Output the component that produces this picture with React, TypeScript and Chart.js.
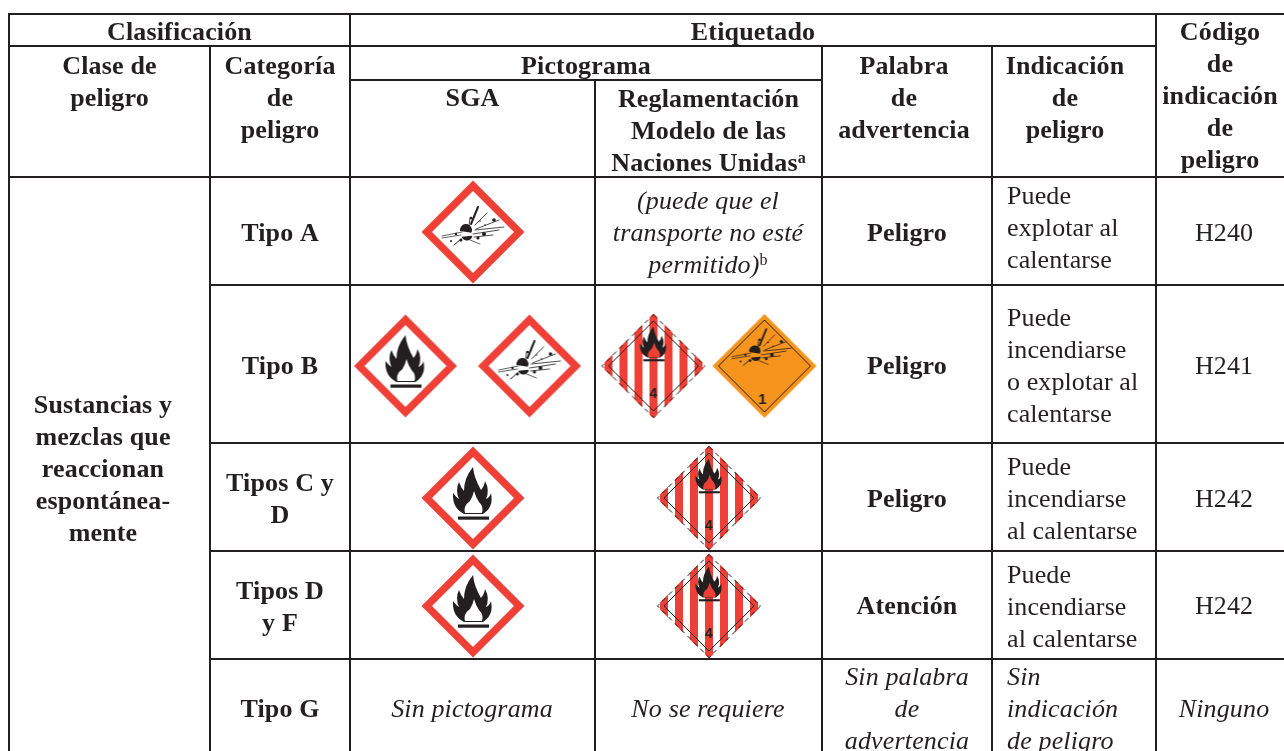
import React, { useEffect, useRef } from "react";
import { Chart, registerables } from "chart.js";

Chart.register(...registerables);

// ---- table text ----
const clasificacion = ["Clasificación"];
const etiquetado = ["Etiquetado"];
const codigoHeader = ["Código", "de", "indicación", "de", "peligro"];
const claseHeader = ["Clase de", "peligro"];
const categoriaHeader = ["Categoría", "de", "peligro"];
const pictogramaHeader = ["Pictograma"];
const sgaHeader = ["SGA"];
const reglamentoHeader = ["Reglamentación", "Modelo de las", "Naciones Unidas^a"];
const palabraHeader = ["Palabra", "de", "advertencia"];
const indicacionHeader = ["Indicación", "de", "peligro"];
const hazardClass = ["Sustancias y", "mezclas que", "reaccionan", "espontánea-", "mente"];
const categories = [["Tipo A"], ["Tipo B"], ["Tipos C y", "D"], ["Tipos D", "y F"], ["Tipo G"]];
const signalWords = [["Peligro"], ["Peligro"], ["Peligro"], ["Atención"]];
const signalNone = ["Sin palabra", "de", "advertencia"];
const statements = [
  ["Puede", "explotar al", "calentarse"],
  ["Puede", "incendiarse", "o explotar al", "calentarse"],
  ["Puede", "incendiarse", "al calentarse"],
  ["Puede", "incendiarse", "al calentarse"],
];
const statementNone = ["Sin", "indicación", "de peligro"];
const codes = ["H240", "H241", "H242", "H242"];
const codeNone = ["Ninguno"];
const transportNote = ["(puede que el", "transporte no esté", "permitido)^b"];
const noPictogram = ["Sin pictograma"];
const notRequired = ["No se requiere"];

// pictograms by table cell: [kind, column, body row, slot in the cell]
const pictograms: [string, number, number, number][] = [
  ["ghsExplosive", 2, 0, 0],
  ["ghsFlame", 2, 1, -1],
  ["ghsExplosive", 2, 1, 1],
  ["unFlame", 3, 1, -1],
  ["unExplosive", 3, 1, 1],
  ["ghsFlame", 2, 2, 0],
  ["unFlame", 3, 2, 0],
  ["ghsFlame", 2, 3, 0],
  ["unFlame", 3, 3, 0],
];

// ---- layout ----
const W = 1284;
const H = 751;
const colEdges = [9, 210, 350, 595, 822, 992, 1156, W];
const rowEdges = [177, 285, 443, 551, 659, H];
const INK = "#231f20";
const RED = "#ee4036";
const ORANGE = "#f7941d";

function flame(c: CanvasRenderingContext2D, inner: string) {
  c.fillStyle = INK;
  c.beginPath();
  c.moveTo(-9, 16);
  c.quadraticCurveTo(-21, 10, -20, -5);
  c.quadraticCurveTo(-17, -1, -14, 1);
  c.quadraticCurveTo(-18, -8, -14, -16);
  c.quadraticCurveTo(-12, -10, -9, -7);
  c.quadraticCurveTo(-9, -20, 0, -31);
  c.quadraticCurveTo(1, -20, 8, -8);
  c.quadraticCurveTo(11, -11, 12, -17);
  c.quadraticCurveTo(17, -8, 13, 1);
  c.quadraticCurveTo(17, -1, 18, -5);
  c.quadraticCurveTo(21, 9, 10, 16);
  c.closePath();
  c.fill();
  c.fillStyle = inner;
  c.beginPath();
  c.moveTo(-8, 15);
  c.quadraticCurveTo(-10, 8, -3, 3);
  c.quadraticCurveTo(0, -2, 1, -7);
  c.quadraticCurveTo(3, 0, 6, 4);
  c.quadraticCurveTo(11, 9, 9, 15);
  c.closePath();
  c.fill();
  c.fillStyle = INK;
  c.fillRect(-15, 18.5, 31, 3.2);
}

const rays: [number, number, number, number, number][] = [
  [-2, -8, 5, -25, 2],
  [2, -7, 14, -19, 0.8],
  [3, -3, 26, -12, 0.8],
  [2, -2, 31, -5, 0.8],
  [0, 2, 26, -2, 0.8],
  [1, 5, 20, 3, 0.8],
  [-11, 0, -31, 4, 0.7],
  [-12, 3, -31, 6, 0.7],
  [-12, 7, -19, 13, 1],
  [-3, 8, 7, 12, 0.7],
  [-4, -6, -3, -14, 0.8],
];
const shrapnel: [number, number, number][] = [
  [21, -12, 1.8], [11, 2, 2], [5, 6, 1.6], [-17, 2, 1.2], [-22, 9, 1], [-12, 8, 1.5], [-2, -14, 1.3], [12, -7, 0.8], [7, -11, 0.8],
];

function explosion(c: CanvasRenderingContext2D) {
  c.strokeStyle = INK;
  c.lineCap = "round";
  rays.forEach(([a, b, d, e, w]) => {
    c.lineWidth = w;
    c.beginPath();
    c.moveTo(a, b);
    c.lineTo(d, e);
    c.stroke();
  });
  c.fillStyle = INK;
  shrapnel.forEach(([a, b, r]) => {
    c.beginPath();
    c.arc(a, b, r, 0, Math.PI * 2);
    c.fill();
  });
  c.beginPath();
  c.arc(-7, -2, 6, Math.PI * 0.95, Math.PI * 2.15);
  c.closePath();
  c.fill();
  c.beginPath();
  c.arc(-6, 3, 5.5, Math.PI * 0.05, Math.PI * 0.9);
  c.closePath();
  c.fill();
}

function diamond(c: CanvasRenderingContext2D, r: number) {
  c.beginPath();
  c.moveTo(0, -r);
  c.lineTo(r, 0);
  c.lineTo(0, r);
  c.lineTo(-r, 0);
  c.closePath();
}

function makePictogram(kind: string): HTMLCanvasElement {
  const cv = document.createElement("canvas");
  cv.width = 120;
  cv.height = 120;
  const c = cv.getContext("2d")!;
  c.translate(60, 60);
  if (kind === "ghsFlame" || kind === "ghsExplosive") {
    diamond(c, 51.5);
    c.fillStyle = RED;
    c.fill();
    diamond(c, 41);
    c.fillStyle = "#fff";
    c.fill();
    if (kind === "ghsFlame") flame(c, "#fff");
    else explosion(c);
  } else if (kind === "unFlame") {
    c.save();
    diamond(c, 52.5);
    c.fillStyle = "#fff";
    c.fill();
    c.clip();
    c.fillStyle = RED;
    for (let i = -3; i <= 3; i++) c.fillRect(i * 15 - 4, -60, 8, 120);
    c.restore();
    c.strokeStyle = INK;
    c.lineWidth = 1;
    c.setLineDash([5, 4]);
    diamond(c, 51.5);
    c.stroke();
    c.setLineDash([]);
    diamond(c, 45);
    c.stroke();
    c.save();
    c.translate(0, -19);
    c.scale(0.68, 0.66);
    flame(c, RED);
    c.restore();
    c.fillStyle = INK;
    c.font = "bold 14px 'Liberation Sans'";
    c.textAlign = "center";
    c.textBaseline = "middle";
    c.fillText("4", 0, 28);
  } else {
    diamond(c, 52);
    c.fillStyle = ORANGE;
    c.fill();
    c.strokeStyle = INK;
    c.lineWidth = 1;
    diamond(c, 46);
    c.stroke();
    c.save();
    c.translate(-3, -13);
    c.scale(0.95, 0.95);
    explosion(c);
    c.restore();
    c.fillStyle = INK;
    c.font = "bold 15px 'Liberation Sans'";
    c.textAlign = "center";
    c.textBaseline = "middle";
    c.fillText("1", -2, 34);
  }
  return cv;
}

type Style = "b" | "i" | "r";
type Block = { lines: string[]; cx: number; y: number; style: Style; left?: boolean };

const mid = (a: number, b: number) => (a + b) / 2;

const blocks: Block[] = [
  { lines: clasificacion, cx: mid(colEdges[0], colEdges[2]), y: 32, style: "b" },
  { lines: etiquetado, cx: mid(colEdges[2], colEdges[6]), y: 32, style: "b" },
  { lines: codigoHeader, cx: 1220, y: 32, style: "b" },
  { lines: claseHeader, cx: mid(colEdges[0], colEdges[1]), y: 66, style: "b" },
  { lines: categoriaHeader, cx: mid(colEdges[1], colEdges[2]), y: 66, style: "b" },
  { lines: pictogramaHeader, cx: mid(colEdges[2], colEdges[4]), y: 66, style: "b" },
  { lines: sgaHeader, cx: mid(colEdges[2], colEdges[3]), y: 98, style: "b" },
  { lines: reglamentoHeader, cx: mid(colEdges[3], colEdges[4]), y: 99, style: "b" },
  { lines: palabraHeader, cx: 904, y: 66, style: "b" },
  { lines: indicacionHeader, cx: 1065, y: 66, style: "b" },
  { lines: hazardClass, cx: 103, y: 405, style: "b" },
  { lines: categories[0], cx: 280, y: 233, style: "b" },
  { lines: categories[1], cx: 280, y: 366, style: "b" },
  { lines: categories[2], cx: 280, y: 483, style: "b" },
  { lines: categories[3], cx: 280, y: 591, style: "b" },
  { lines: categories[4], cx: 280, y: 709, style: "b" },
  { lines: transportNote, cx: 708, y: 201, style: "i" },
  { lines: noPictogram, cx: 472, y: 709, style: "i" },
  { lines: notRequired, cx: 708, y: 709, style: "i" },
  { lines: signalWords[0], cx: 907, y: 233, style: "b" },
  { lines: signalWords[1], cx: 907, y: 366, style: "b" },
  { lines: signalWords[2], cx: 907, y: 499, style: "b" },
  { lines: signalWords[3], cx: 907, y: 606, style: "b" },
  { lines: signalNone, cx: 907, y: 677, style: "i" },
  { lines: statements[0], cx: 1007, y: 196, style: "r", left: true },
  { lines: statements[1], cx: 1007, y: 318, style: "r", left: true },
  { lines: statements[2], cx: 1007, y: 467, style: "r", left: true },
  { lines: statements[3], cx: 1007, y: 575, style: "r", left: true },
  { lines: statementNone, cx: 1007, y: 677, style: "i", left: true },
  { lines: [codes[0]], cx: 1224, y: 233, style: "r" },
  { lines: [codes[1]], cx: 1224, y: 366, style: "r" },
  { lines: [codes[2]], cx: 1224, y: 499, style: "r" },
  { lines: [codes[3]], cx: 1224, y: 606, style: "r" },
  { lines: codeNone, cx: 1224, y: 709, style: "i" },
];

const FONT: Record<Style, string> = {
  b: "bold 26px 'Liberation Serif'",
  i: "italic 26px 'Liberation Serif'",
  r: "26px 'Liberation Serif'",
};
const SUP: Record<Style, string> = {
  b: "bold 16px 'Liberation Serif'",
  i: "16px 'Liberation Serif'",
  r: "16px 'Liberation Serif'",
};
const SPACING: Record<Style, string> = { b: "0.15px", i: "0.15px", r: "0.1px" };

const tableText = {
  id: "tableText",
  afterDatasetsDraw(chart: any) {
    const { ctx, scales } = chart;
    ctx.save();
    ctx.fillStyle = INK;
    ctx.textBaseline = "alphabetic";
    ctx.textAlign = "left";
    blocks.forEach((b) => {
      b.lines.forEach((line, i) => {
        const [main, sup] = line.split("^");
        ctx.letterSpacing = SPACING[b.style];
        ctx.font = FONT[b.style];
        const mw = ctx.measureText(main).width;
        ctx.font = SUP[b.style];
        const sw = sup ? ctx.measureText(sup).width : 0;
        const total = mw + sw;
        const x = scales.x.getPixelForValue(b.left ? b.cx : b.cx - total / 2);
        const y = scales.y.getPixelForValue(b.y + i * 32 + 8);
        ctx.font = FONT[b.style];
        ctx.fillText(main, x, y);
        if (sup) {
          ctx.font = SUP[b.style];
          ctx.fillText(sup, x + mw, y - 8);
        }
      });
    });
    ctx.restore();
  },
};

// [y, from x, to x] and [x, from y, to y] rules of the table
const hRules: [number, number, number][] = [
  [14, 9, W],
  [46, 9, colEdges[6]],
  [80, colEdges[2], colEdges[4]],
  [rowEdges[0], 9, W],
  [rowEdges[1], colEdges[1], W],
  [rowEdges[2], colEdges[1], W],
  [rowEdges[3], colEdges[1], W],
  [rowEdges[4], colEdges[1], W],
];
const vRules: [number, number, number][] = [
  [colEdges[0], 13, H],
  [colEdges[1], 46, H],
  [colEdges[2], 13, H],
  [colEdges[3], 80, H],
  [colEdges[4], 46, H],
  [colEdges[5], 46, H],
  [colEdges[6], 13, H],
];

const SLOT_OFFSET: Record<number, number> = { 2: 62, 3: 55.5 };
const pictoX = (col: number, slot: number) => {
  const centre = col === 2 ? 473 : 709;
  return slot === 0 ? centre : (col === 2 ? 467.5 : 709) + slot * SLOT_OFFSET[col];
};
const pictoY = [232, 366, 498, 606];

export default function App() {
  const ref = useRef<HTMLCanvasElement>(null);
  useEffect(() => {
    const lineDs = (data: { x: number; y: number }[]) => ({
      type: "scatter" as const,
      data,
      showLine: true,
      borderColor: INK,
      borderWidth: 2,
      pointRadius: 0,
      pointHoverRadius: 0,
    });
    const kinds = Array.from(new Set(pictograms.map((p) => p[0])));
    const images: Record<string, HTMLCanvasElement> = {};
    kinds.forEach((k) => (images[k] = makePictogram(k)));
    const chart = new Chart(ref.current!, {
      type: "scatter",
      data: {
        datasets: [
          ...hRules.map(([y, a, b]) => lineDs([{ x: a, y }, { x: b, y }])),
          ...vRules.map(([x, a, b]) => lineDs([{ x, y: a }, { x, y: b }])),
          ...kinds.map((k) => ({
            type: "scatter" as const,
            data: pictograms
              .filter((p) => p[0] === k)
              .map((p) => ({ x: pictoX(p[1], p[3]), y: pictoY[p[2]] })),
            pointStyle: images[k] as any,
            pointRadius: 10,
          })),
        ],
      } as any,
      plugins: [tableText as any],
      options: {
        animation: false,
        responsive: false,
        devicePixelRatio: 1,
        layout: { padding: 0, autoPadding: false },
        events: [],
        plugins: { legend: { display: false }, tooltip: { enabled: false }, title: { display: false } },
        scales: {
          x: { type: "linear", min: 0, max: W, display: false },
          y: { type: "linear", min: 0, max: H, reverse: true, display: false },
        },
      },
    });
    return () => chart.destroy();
  }, []);
  return (
    <div style={{ position: "absolute", left: 0, top: 0, width: W, height: H, background: "#fff" }}>
      <canvas ref={ref} width={W} height={H} style={{ display: "block" }} />
    </div>
  );
}
